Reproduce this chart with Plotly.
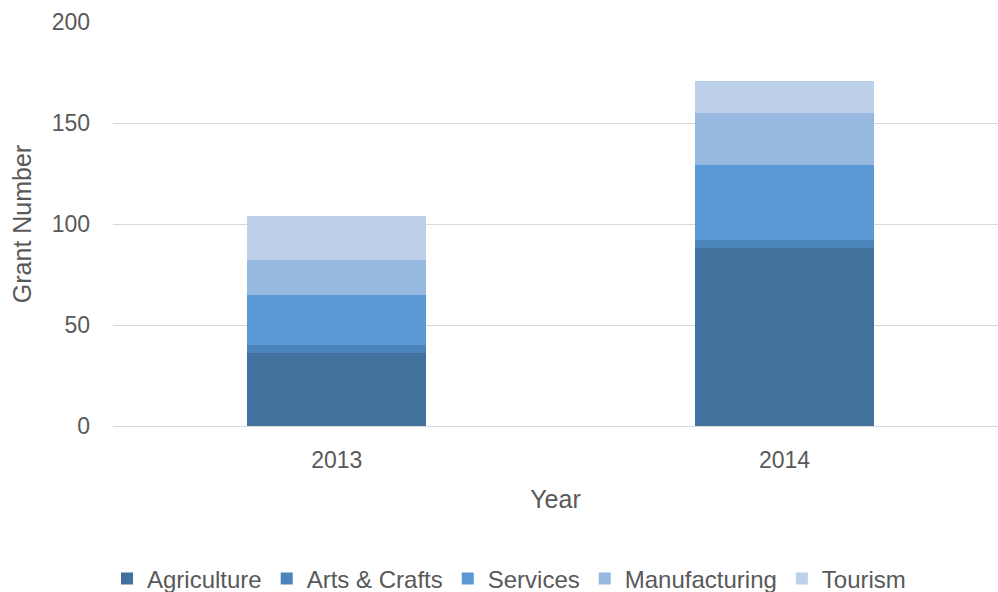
import plotly.graph_objects as go

years = ["2013", "2014"]
series_names = ["Agriculture", "Arts & Crafts", "Services", "Manufacturing", "Tourism"]
agriculture = [36, 88]
arts_crafts = [4, 4]
services = [25, 37]
manufacturing = [17, 26]
tourism = [22, 16]
colors = ["#41719C", "#4A84BA", "#5A99D5", "#97B8DF", "#BDD0EA"]

values = [agriculture, arts_crafts, services, manufacturing, tourism]

fig = go.Figure()
for name, vals, col in zip(series_names, values, colors):
    fig.add_trace(go.Bar(
        x=years, y=vals, name=name, marker=dict(color=col, line=dict(width=0)),
        width=0.4,
    ))

font_fam = "Liberation Sans, Arial, sans-serif"
fig.update_layout(
    barmode="stack",
    width=998, height=592,
    margin=dict(l=113, r=0, t=22, b=166, autoexpand=False),
    paper_bgcolor="white", plot_bgcolor="white",
    font=dict(family=font_fam, size=23, color="#595959"),
    xaxis=dict(
        type="category", range=[-0.5, 1.477], automargin=False,
        title=dict(text="Year", font=dict(size=25, color="#595959"), standoff=18),
        showgrid=False, showline=True, linecolor="#D9D9D9", linewidth=1,
        ticks="", tickfont=dict(size=23, color="#595959"),
        ticklabelstandoff=13,
    ),
    yaxis=dict(
        range=[0, 200], tickvals=[0, 50, 100, 150, 200], automargin=False,
        title=dict(text="Grant Number", font=dict(size=25, color="#595959"), standoff=12),
        showgrid=True, gridcolor="#D9D9D9", gridwidth=1,
        zeroline=False, showline=False, ticks="",
        tickfont=dict(size=23, color="#595959"),
        ticklabelstandoff=22,
    ),
    legend=dict(
        orientation="h", x=0.51, xanchor="center", y=0.022, yanchor="middle",
        yref="container", xref="container",
        font=dict(size=24, color="#595959"), traceorder="normal",
        itemwidth=30,
    ),
    bargap=0.6,
)

fig.write_html("out.html")
